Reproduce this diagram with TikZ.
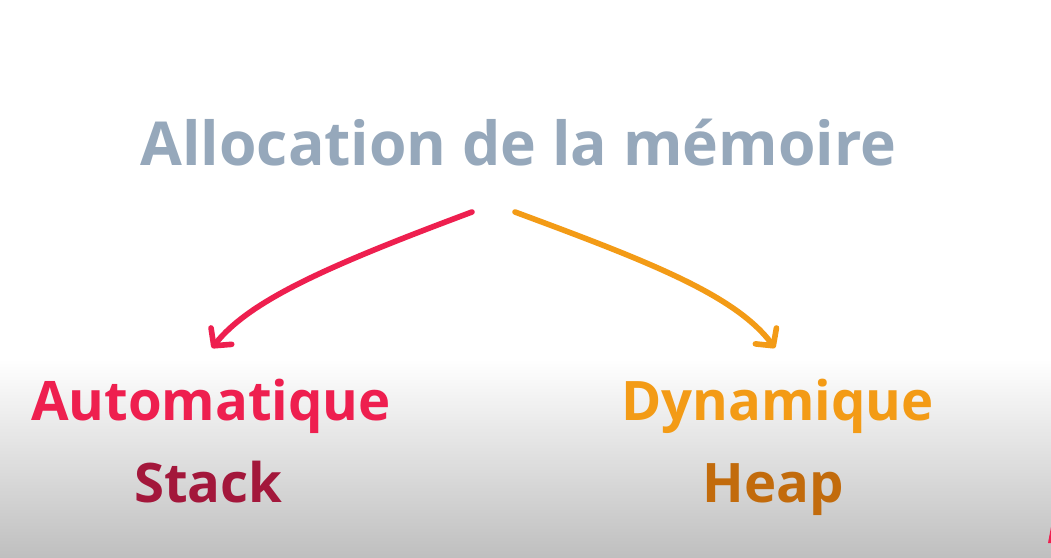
\documentclass[tikz,border=0pt]{standalone}
\usepackage{fontspec}
\setmainfont{Open Sans}
\usetikzlibrary{arrows.meta}
\definecolor{titlegray}{HTML}{96A8BB}
\definecolor{autored}{HTML}{EE1F4F}
\definecolor{stackred}{HTML}{A3173B}
\definecolor{dynorange}{HTML}{F39B16}
\definecolor{heaporange}{HTML}{C26B0C}

\begin{document}
\begin{tikzpicture}
\tikzstyle{big}=[anchor=base,inner sep=0pt,font=\bfseries\fontsize{34.5}{40}\selectfont]
\tikzstyle{label}=[anchor=base,inner sep=0pt,font=\bfseries\fontsize{31}{36}\selectfont]
\tikzstyle{branch}=[line width=3.2pt,line cap=round,-{Straight Barb[length=7pt,width=15pt,round]}]
\useasboundingbox (0,0) rectangle (21.02,11.14);
\fill[white] (0,0) rectangle (21.02,11.14);
\shade[top color=white,bottom color=black!25] (0,0) rectangle (21.02,3.96);
\node [big,text=titlegray] (title) at (10.37,7.82) {Allocation de la mémoire};
\node [label,text=autored] (auto) at (4.22,2.74) {Automatique};
\node [label,text=stackred] (stack) at (4.17,1.10) {Stack};
\node [label,text=dynorange] (dyn) at (15.55,2.74) {Dynamique};
\node [label,text=heaporange] (heap) at (15.47,1.10) {Heap};
\coordinate (fromA) at (9.44,6.90);
\coordinate (toA) at (4.24,4.18);
\coordinate (fromD) at (10.30,6.90);
\coordinate (toD) at (15.50,4.18);
\draw [branch,autored] (fromA) .. controls (6.60,5.84) and (5.00,5.14) .. (toA);
\draw [branch,dynorange] (fromD) .. controls (13.00,5.90) and (14.70,5.24) .. (toD);
\fill [autored] (20.96,0.28) -- (21.02,0.60) -- (21.02,0.28) -- cycle;
\end{tikzpicture}
\end{document}
